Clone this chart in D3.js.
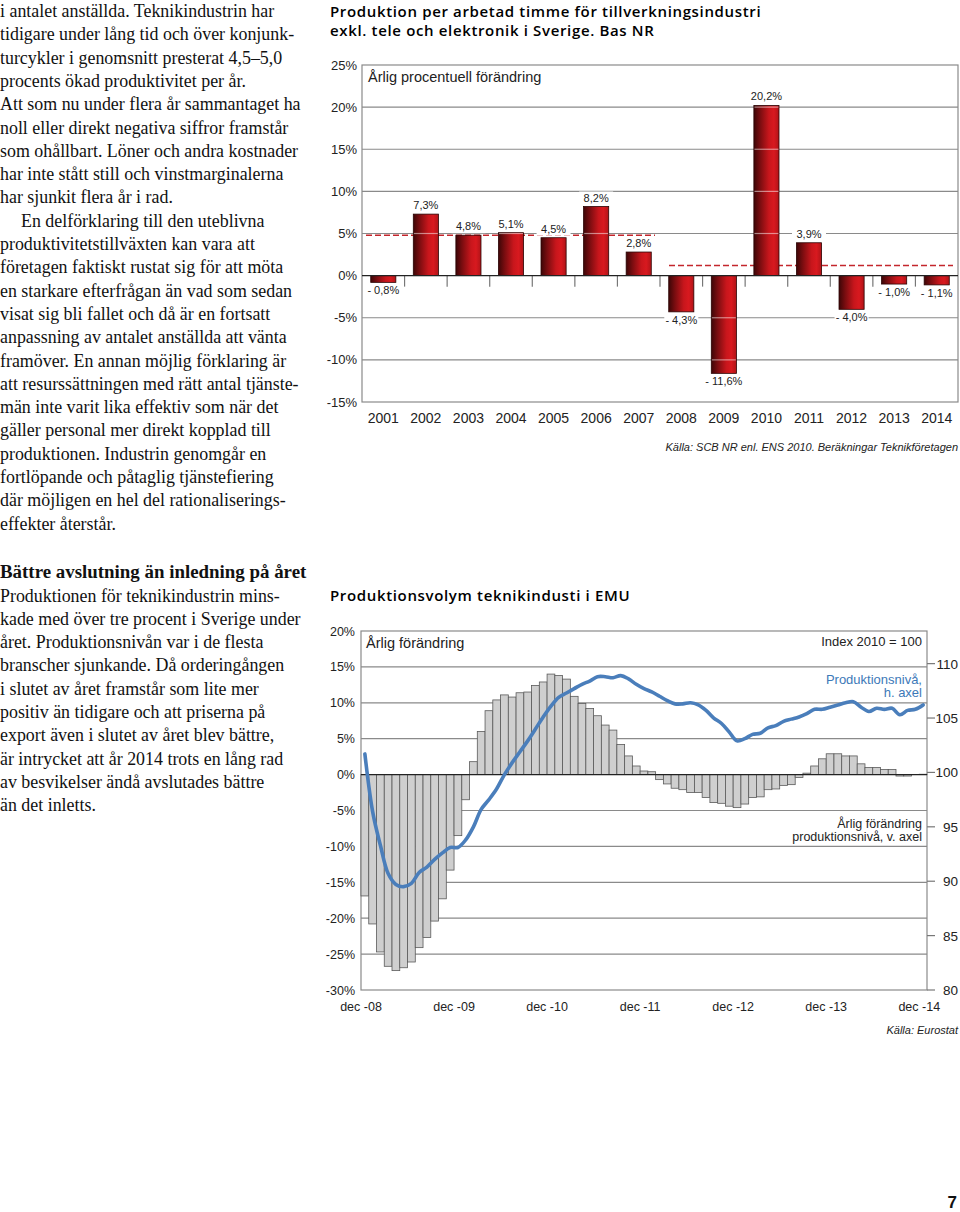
<!DOCTYPE html>
<html><head><meta charset="utf-8">
<script src="https://cdn.jsdelivr.net/npm/d3@7"></script>
<style>body{margin:0;background:#fff}</style>
</head><body>
<svg id="c" width="960" height="1212" xmlns="http://www.w3.org/2000/svg"></svg>
<script>
// ---------- DATA ----------
const years = ["2001","2002","2003","2004","2005","2006","2007","2008","2009","2010","2011","2012","2013","2014"];
const productivity = [-0.8,7.3,4.8,5.1,4.5,8.2,2.8,-4.3,-11.6,20.2,3.9,-4.0,-1.0,-1.1];
const periodFrom = ["2001","2008"];
const periodTo = ["2007","2014"];
const periodLevel = [4.8,1.2];
const topTicks = [25,20,15,10,5,0,-5,-10,-15];

const months = d3.timeMonths(new Date(2008,11,1), new Date(2015,0,1)).map(d3.timeFormat("%Y-%m"));
const annualChange = [-16.9,-20.8,-24.7,-26.7,-27.3,-26.9,-26.1,-24.1,-22.7,-20.4,-17.3,-13.3,
  -8.5,-3.5,1.8,6.0,8.9,10.4,11.1,10.8,11.4,11.5,12.4,12.9,
  14.0,13.8,13.3,10.9,9.9,9.2,8.2,6.9,6.2,4.2,2.6,1.2,
  0.5,0.4,-0.7,-1.3,-1.9,-2.1,-2.5,-2.5,-3.2,-3.9,-4.0,-4.4,
  -4.6,-4.1,-3.2,-3.1,-2.1,-2.0,-1.5,-1.4,-0.4,0.2,1.2,2.2,
  2.9,2.9,2.6,2.6,1.5,1.0,1.0,0.7,0.7,-0.2,-0.2,0.0,0.05];
const prodLevel = [101.7,96.4,93.3,90.7,89.7,89.5,89.8,90.8,91.3,92.0,92.6,93.1,
  93.1,93.8,95.0,96.6,97.5,98.5,99.8,100.9,101.9,102.9,104.0,105.1,
  106.1,106.9,107.3,107.7,108.1,108.4,108.8,108.8,108.7,108.9,108.6,108.1,
  107.7,107.4,107.0,106.6,106.3,106.3,106.4,106.2,105.7,105.0,104.5,103.7,
  102.9,103.1,103.5,103.6,104.1,104.3,104.7,104.9,105.1,105.4,105.8,105.8,
  106.0,106.2,106.4,106.5,106.0,105.6,105.9,105.8,105.9,105.3,105.7,105.8,106.2];
const xTickLabels = ["dec -08","dec -09","dec -10","dec -11","dec -12","dec -13","dec -14"];
const leftTicks = [20,15,10,5,0,-5,-10,-15,-20,-25,-30];
const rightTicks = [110,105,100,95,90,85,80];

const para1 = [
 "i antalet anställda. Teknikindustrin har",
 "tidigare under lång tid och över konjunk-",
 "turcykler i genomsnitt presterat 4,5–5,0",
 "procents ökad produktivitet per år.",
 "Att som nu under flera år sammantaget ha",
 "noll eller direkt negativa siffror framstår",
 "som ohållbart. Löner och andra kostnader",
 "har inte stått still och vinstmarginalerna",
 "har sjunkit flera år i rad.",
 "En delförklaring till den uteblivna",
 "produktivitetstillväxten kan vara att",
 "företagen faktiskt rustat sig för att möta",
 "en starkare efterfrågan än vad som sedan",
 "visat sig bli fallet och då är en fortsatt",
 "anpassning av antalet anställda att vänta",
 "framöver. En annan möjlig förklaring är",
 "att resurssättningen med rätt antal tjänste-",
 "män inte varit lika effektiv som när det",
 "gäller personal mer direkt kopplad till",
 "produktionen. Industrin genomgår en",
 "fortlöpande och påtaglig tjänstefiering",
 "där möjligen en hel del rationaliserings-",
 "effekter återstår."];
const heading2 = "Bättre avslutning än inledning på året";
const para2 = [
 "Produktionen för teknikindustrin mins-",
 "kade med över tre procent i Sverige under",
 "året. Produktionsnivån var i de flesta",
 "branscher sjunkande. Då orderingången",
 "i slutet av året framstår som lite mer",
 "positiv än tidigare och att priserna på",
 "export även i slutet av året blev bättre,",
 "är intrycket att år 2014 trots en lång rad",
 "av besvikelser ändå avslutades bättre",
 "än det inletts."];

// ---------- SETUP ----------
const svg = d3.select("#c");
const SANS = "'Liberation Sans', Arial, sans-serif";
const TITLE = "'Open Sans', 'Liberation Sans', sans-serif";
const SERIF = "'Liberation Serif', 'Times New Roman', serif";
const GRID = "#8a8a8a";

// ---------- LEFT TEXT ----------
const lt = svg.append("g").attr("font-family", SERIF).attr("font-size", 17.9).attr("fill", "#111");
lt.selectAll("text.p1").data(para1).join("text").attr("class","p1")
  .attr("x", (d,i) => i === 9 ? 21 : 0)
  .attr("y", (d,i) => 17 + i*23.3).text(d => d);
lt.append("text").attr("x",0).attr("y",578).attr("font-weight","bold").attr("font-size",18.9).text(heading2);
lt.selectAll("text.p2").data(para2).join("text").attr("class","p2")
  .attr("x",0).attr("y",(d,i) => 601.5 + i*23.3).text(d => d);

// ---------- TOP CHART ----------
const T = {l:362, r:958, t:65, b:402};
const gT = svg.append("g").attr("font-family", SANS);
gT.append("text").attr("x",330).attr("y",16.5).attr("font-family",TITLE).attr("font-size",15).attr("font-weight",600)
  .attr("letter-spacing",0.65).text("Produktion per arbetad timme för tillverkningsindustri");
gT.append("text").attr("x",330).attr("y",36).attr("font-family",TITLE).attr("font-size",15).attr("font-weight",600)
  .attr("letter-spacing",0.65).text("exkl. tele och elektronik i Sverige. Bas NR");

const yT = d3.scaleLinear().domain([-15,25]).range([T.b,T.t]);
const xT = d3.scaleBand().domain(years).range([T.l,T.r]).paddingInner(0.41).paddingOuter(0.205);

const defs = svg.append("defs");
const grad = defs.append("linearGradient").attr("id","barGrad").attr("x1","0").attr("x2","1").attr("y1","0").attr("y2","0");
[[0,"#3d0607"],[0.25,"#7a0d10"],[0.6,"#c8161c"],[0.8,"#d8191f"],[1,"#b01418"]].forEach(s =>
  grad.append("stop").attr("offset",s[0]).attr("stop-color",s[1]));

// gridlines
gT.append("g").selectAll("line").data(topTicks.filter(t => t !== 0 && t !== 25 && t !== -15)).join("line")
  .attr("x1",T.l).attr("x2",T.r).attr("y1",d=>yT(d)).attr("y2",d=>yT(d))
  .attr("stroke",GRID).attr("stroke-width",1.2);
// frame
gT.append("rect").attr("x",T.l).attr("y",T.t).attr("width",T.r-T.l).attr("height",T.b-T.t)
  .attr("fill","none").attr("stroke",GRID).attr("stroke-width",1.2);
// y labels
gT.append("g").selectAll("text").data(topTicks).join("text")
  .attr("x",357).attr("y",d=>yT(d)+4.5).attr("text-anchor","end").attr("font-size",13).attr("fill","#222")
  .text(d => d + "%");
// subtitle
gT.append("text").attr("x",368).attr("y",82).attr("font-size",14.5).attr("fill","#222").text("Årlig procentuell förändring");

// category ticks
const stepT = xT.step();
gT.append("g").selectAll("line").data(d3.range(1, years.length)).join("line")
  .attr("x1",k => T.l + k*stepT).attr("x2",k => T.l + k*stepT)
  .attr("y1",yT(0)).attr("y2",yT(0)+11).attr("stroke","#777").attr("stroke-width",1.2);

// dashed period lines
gT.append("g").selectAll("line").data(periodLevel).join("line")
  .attr("x1",(d,i) => xT(periodFrom[i]) - stepT*0.205 + (i===0?4:9))
  .attr("x2",(d,i) => xT(periodTo[i]) + xT.bandwidth() + stepT*0.205 - 5)
  .attr("y1",d=>yT(d)).attr("y2",d=>yT(d))
  .attr("stroke","#c4262c").attr("stroke-width",1.6).attr("stroke-dasharray","6,3");

// bars
gT.append("g").selectAll("rect").data(productivity).join("rect")
  .attr("x",(d,i)=>xT(years[i])).attr("width",xT.bandwidth())
  .attr("y",d=>yT(Math.max(0,d))).attr("height",d=>Math.abs(yT(d)-yT(0)))
  .attr("fill","url(#barGrad)").attr("stroke","#2a0303").attr("stroke-width",0.8);
// light gridline overlay across bars
const overlay = [];
productivity.forEach((v,i) => {
  topTicks.filter(t => t!==0 && ((v>0 && t>0 && t<v) || (v<0 && t<0 && t>v))).forEach(t => overlay.push({i,t}));
});
gT.append("g").selectAll("line").data(overlay).join("line")
  .attr("x1",d=>xT(years[d.i])+0.6).attr("x2",d=>xT(years[d.i])+xT.bandwidth()-0.6)
  .attr("y1",d=>yT(d.t)).attr("y2",d=>yT(d.t))
  .attr("stroke","#ffffff").attr("stroke-opacity",0.5).attr("stroke-width",1.2);
// zero line
gT.append("line").attr("x1",T.l).attr("x2",T.r).attr("y1",yT(0)).attr("y2",yT(0)).attr("stroke","#222").attr("stroke-width",1.2);

// value labels
const fmt = v => (v < 0 ? "- " + d3.format(".1f")(-v) : d3.format(".1f")(v)).replace(".", ",") + "%";
const lab = gT.append("g").selectAll("g").data(productivity).join("g")
  .attr("transform",(d,i) => `translate(${xT(years[i]) + xT.bandwidth()/2},${d>=0 ? yT(d)-5 : yT(d)+12})`);
lab.append("rect").attr("x",-17).attr("y",-10).attr("width",34).attr("height",13).attr("fill","#fff");
lab.append("text").attr("text-anchor","middle").attr("font-size",11).attr("fill","#222").text(d=>fmt(d));

// year labels
gT.append("g").selectAll("text").data(years).join("text")
  .attr("x",d=>xT(d)+xT.bandwidth()/2).attr("y",423).attr("text-anchor","middle")
  .attr("font-size",14).attr("fill","#222").text(d=>d);
// source
gT.append("text").attr("x",958).attr("y",451).attr("text-anchor","end").attr("font-size",11)
  .attr("font-style","italic").attr("fill","#222").text("Källa: SCB NR enl. ENS 2010. Beräkningar Teknikföretagen");

// ---------- BOTTOM CHART ----------
const B = {l:361, r:927, t:631, b:990};
const gB = svg.append("g").attr("font-family", SANS);
gB.append("text").attr("x",330).attr("y",601).attr("font-family",TITLE).attr("font-size",15).attr("font-weight",600)
  .attr("letter-spacing",0.65).text("Produktionsvolym teknikindusti i EMU");
const yL = d3.scaleLinear().domain([-30,20]).range([B.b,B.t]);
const yR = d3.scaleLinear().domain([80,113]).range([B.b,B.t]);
const xB = d3.scaleBand().domain(months).range([B.l,B.r]).padding(0);

gB.append("g").selectAll("line").data(leftTicks.filter(t=>t!==20 && t!==-30 && t!==0)).join("line")
  .attr("x1",B.l).attr("x2",B.r).attr("y1",d=>yL(d)).attr("y2",d=>yL(d))
  .attr("stroke",GRID).attr("stroke-width",1.2);
gB.append("rect").attr("x",B.l).attr("y",B.t).attr("width",B.r-B.l).attr("height",B.b-B.t)
  .attr("fill","none").attr("stroke",GRID).attr("stroke-width",1.2);

gB.append("g").selectAll("rect").data(annualChange).join("rect")
  .attr("x",(d,i)=>xB(months[i])).attr("width",xB.bandwidth())
  .attr("y",d=>yL(Math.max(0,d))).attr("height",d=>Math.abs(yL(d)-yL(0)))
  .attr("fill","#cfcfcf").attr("stroke","#5a5a5a").attr("stroke-width",0.8);
gB.append("line").attr("x1",B.l).attr("x2",B.r).attr("y1",yL(0)).attr("y2",yL(0)).attr("stroke","#222").attr("stroke-width",1.3);

const line = d3.line().x((d,i)=>xB(months[i])+xB.bandwidth()/2).y(d=>yR(d)).curve(d3.curveCatmullRom.alpha(0.5));
gB.append("path").datum(prodLevel).attr("d",line).attr("fill","none")
  .attr("stroke","#4a7ebb").attr("stroke-width",3.6).attr("stroke-linejoin","round").attr("stroke-linecap","round");

gB.append("g").selectAll("text").data(leftTicks).join("text")
  .attr("x",355).attr("y",d=>yL(d)+4.5).attr("text-anchor","end").attr("font-size",12.5).attr("fill","#222")
  .text(d=>d+"%");
gB.append("g").selectAll("line").data(rightTicks).join("line")
  .attr("x1",B.r).attr("x2",B.r+8).attr("y1",d=>yR(d)).attr("y2",d=>yR(d)).attr("stroke","#777").attr("stroke-width",1.2);
gB.append("g").selectAll("text").data(rightTicks).join("text")
  .attr("x",958).attr("y",d=>yR(d)+5).attr("text-anchor","end").attr("font-size",13.5).attr("fill","#222").text(d=>d);
gB.append("g").selectAll("text").data(xTickLabels).join("text")
  .attr("x",(d,i)=>xB(months[i*12])).attr("y",1011).attr("text-anchor","middle")
  .attr("font-size",12.5).attr("fill","#222").text(d=>d);

gB.append("text").attr("x",366).attr("y",648).attr("font-size",14.5).attr("fill","#222").text("Årlig förändring");
gB.append("text").attr("x",922).attr("y",646).attr("text-anchor","end").attr("font-size",13).attr("fill","#222").text("Index 2010 = 100");
gB.append("text").attr("x",922).attr("y",684).attr("text-anchor","end").attr("font-size",13).attr("fill","#3d79b8").text("Produktionsnivå,");
gB.append("text").attr("x",922).attr("y",697).attr("text-anchor","end").attr("font-size",13).attr("fill","#3d79b8").text("h. axel");
gB.append("text").attr("x",922).attr("y",828).attr("text-anchor","end").attr("font-size",12.5).attr("fill","#222").text("Årlig förändring");
gB.append("text").attr("x",922).attr("y",841).attr("text-anchor","end").attr("font-size",12.5).attr("fill","#222").text("produktionsnivå, v. axel");
gB.append("text").attr("x",958).attr("y",1034).attr("text-anchor","end").attr("font-size",11)
  .attr("font-style","italic").attr("fill","#222").text("Källa: Eurostat");

// page number
svg.append("text").attr("x",957).attr("y",1208).attr("text-anchor","end").attr("font-family",SANS)
  .attr("font-weight","bold").attr("font-size",17).attr("fill","#111").text("7");
</script>
</body></html>
